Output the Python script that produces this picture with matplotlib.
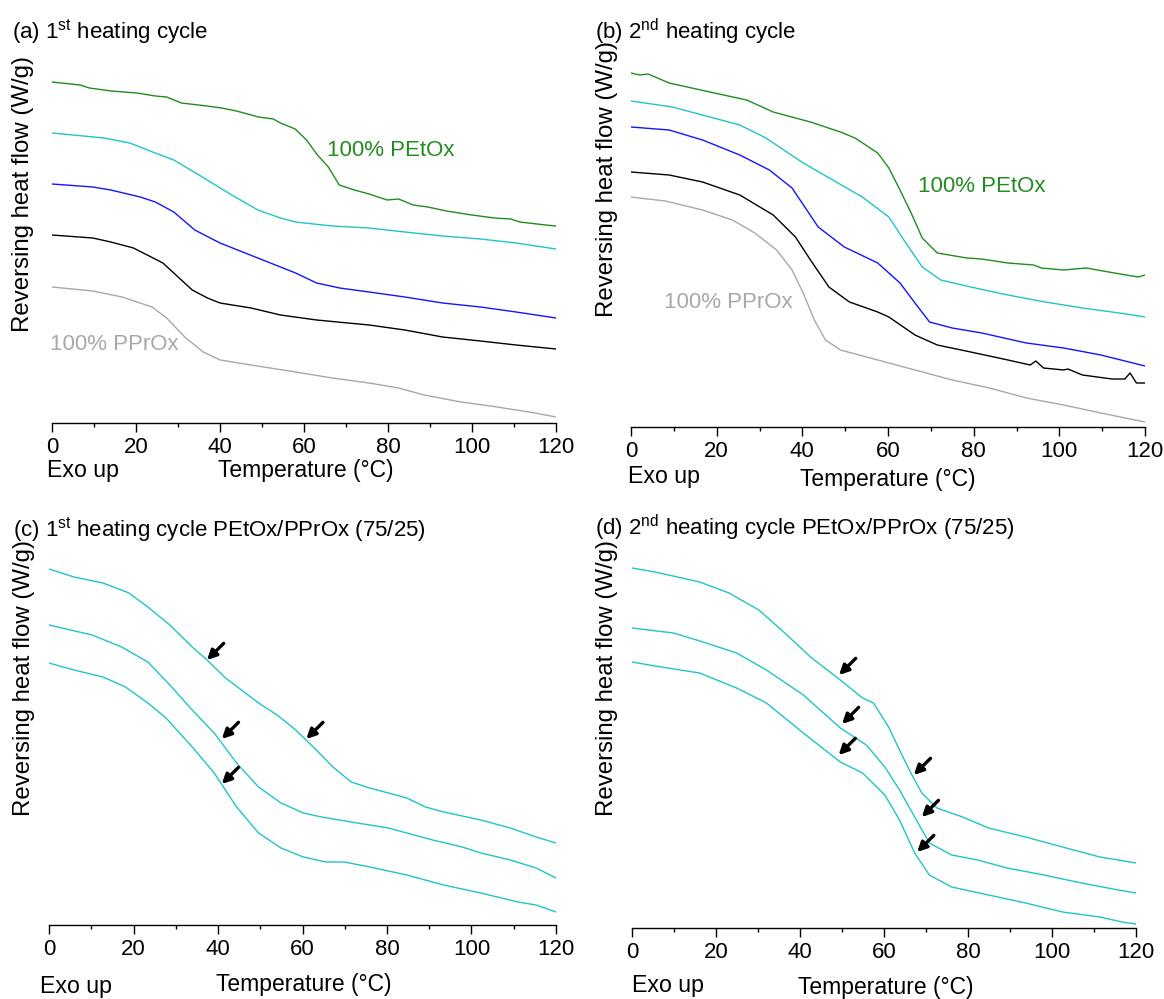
import matplotlib
matplotlib.use('Agg')
import matplotlib.pyplot as plt
from matplotlib.ticker import MultipleLocator

plt.rcParams['font.family'] = ['Liberation Sans', 'DejaVu Sans']
plt.rcParams['mathtext.fontset'] = 'custom'
plt.rcParams['mathtext.rm'] = 'Liberation Sans'
plt.rcParams['font.size'] = 16

# --- data (temperature in C, reversing heat flow in arbitrary offset units) ---
# (a) 1st heating cycle
a_t_green = [0, 6.7, 8.9, 14.1, 20.2, 24.6, 27.3, 30.8, 36.9, 40.4, 43.9, 49.2, 52.7, 54.4, 57.9, 60.6,
             63.2, 65.8, 68.4, 72, 75.5, 79.8, 82.5, 86, 89.5, 93.9, 100, 105.3, 109.2, 111.4, 117.5, 120]
a_hf_green = [3.41, 3.38, 3.35, 3.32, 3.30, 3.27, 3.26, 3.20, 3.17, 3.15, 3.12, 3.06, 3.04, 3.00, 2.94, 2.83,
              2.68, 2.56, 2.38, 2.33, 2.29, 2.23, 2.24, 2.18, 2.16, 2.12, 2.08, 2.05, 2.04, 2.01, 1.98, 1.97]
a_t_cyan = [0, 5, 12.4, 18.5, 24.6, 29, 35, 42, 49, 54.4, 58, 66.7, 75.5, 84, 93, 102, 110.5, 120]
a_hf_cyan = [2.90, 2.88, 2.85, 2.80, 2.70, 2.63, 2.48, 2.30, 2.13, 2.05, 2.01, 1.97, 1.95, 1.91, 1.87, 1.84, 1.80, 1.74]
a_t_blue = [0, 9.7, 14, 21, 24.6, 29, 34, 40, 49, 58, 63, 68.5, 75.5, 84, 93, 102, 110.5, 120]
a_hf_blue = [2.39, 2.36, 2.33, 2.26, 2.21, 2.11, 1.93, 1.80, 1.65, 1.50, 1.40, 1.35, 1.31, 1.26, 1.20, 1.16, 1.11, 1.05]
a_t_black = [0, 9.7, 14, 19.4, 26.4, 30.8, 33.4, 37, 40, 47.4, 54.4, 63, 75.5, 84, 93, 102, 110.5, 120]
a_hf_black = [1.88, 1.85, 1.81, 1.75, 1.60, 1.43, 1.33, 1.25, 1.20, 1.15, 1.08, 1.03, 0.98, 0.93, 0.86, 0.82, 0.78, 0.74]
a_t_gray = [0, 9.7, 16.7, 23.8, 27.3, 31.6, 36, 40, 47.4, 58, 66.7, 75.5, 82.5, 88.6, 97.4, 106, 115, 120]
a_hf_gray = [1.36, 1.32, 1.26, 1.16, 1.05, 0.86, 0.71, 0.63, 0.58, 0.51, 0.45, 0.40, 0.35, 0.28, 0.21, 0.16, 0.10, 0.06]

# (b) 2nd heating cycle
b_t_green = [0, 2, 4, 8.9, 18.4, 27, 33.2, 41.9, 48.9, 52.3, 57.6, 60.2, 62.8, 65.4, 68, 71.5, 78.4, 81.9,
             88, 94, 95.8, 101, 106.3, 111.5, 118.4, 120]
b_hf_green = [3.54, 3.52, 3.53, 3.44, 3.35, 3.27, 3.15, 3.05, 2.95, 2.89, 2.74, 2.59, 2.37, 2.14, 1.89, 1.74,
              1.69, 1.68, 1.64, 1.62, 1.59, 1.57, 1.59, 1.55, 1.50, 1.52]
b_t_cyan = [0, 9.7, 18.4, 25.4, 31.5, 40.2, 47.1, 54, 60.2, 63.7, 68, 72.3, 79.3, 88, 96.7, 105.4, 114, 120]
b_hf_cyan = [3.26, 3.20, 3.10, 3.02, 2.89, 2.64, 2.47, 2.30, 2.10, 1.87, 1.60, 1.47, 1.40, 1.32, 1.25, 1.19, 1.14, 1.10]
b_t_blue = [0, 8.9, 16.7, 25.4, 32.3, 37.6, 43.7, 49.8, 57.6, 62.8, 66.3, 69.7, 75, 81.9, 92.3, 101, 109.7, 120]
b_hf_blue = [3.00, 2.97, 2.87, 2.72, 2.57, 2.39, 2.00, 1.80, 1.64, 1.44, 1.24, 1.05, 0.99, 0.94, 0.84, 0.79, 0.72, 0.61]
b_t_black = [0, 8.9, 16.7, 25.4, 33.2, 38.4, 41.9, 46.2, 51, 57.6, 60.2, 66.3, 71.5, 79.3, 88, 93.2, 94.5,
             96.3, 101, 102, 105.4, 112.3, 115.3, 116.5, 118, 120]
b_hf_black = [2.55, 2.52, 2.45, 2.32, 2.12, 1.90, 1.67, 1.40, 1.25, 1.15, 1.10, 0.92, 0.82, 0.75, 0.67, 0.62, 0.66,
              0.59, 0.57, 0.58, 0.52, 0.48, 0.48, 0.54, 0.44, 0.44]
b_t_gray = [0, 8, 16.7, 23.7, 28.9, 34, 37.6, 40.2, 42.8, 45.4, 48.9, 57.6, 66.3, 75, 83.7, 92.3, 101, 109.7, 120]
b_hf_gray = [2.30, 2.26, 2.17, 2.07, 1.94, 1.77, 1.57, 1.34, 1.07, 0.87, 0.77, 0.67, 0.57, 0.47, 0.39, 0.29, 0.22, 0.14, 0.05]

# (c) 1st heating cycle PEtOx/PPrOx (75/25)
c_t_1 = [0, 5.9, 12.8, 18.9, 23.4, 28.6, 33.9, 37.4, 41.8, 49.6, 54, 58.4, 62.8, 67.2, 71.5, 75.9, 80.3, 84.7,
         89.1, 93.4, 102.2, 109.2, 115.3, 120]
c_hf_1 = [3.56, 3.48, 3.42, 3.32, 3.18, 3.00, 2.78, 2.65, 2.47, 2.22, 2.10, 1.95, 1.77, 1.58, 1.43, 1.37, 1.32, 1.27,
          1.18, 1.13, 1.05, 0.97, 0.88, 0.82]
c_t_2 = [0, 10.2, 17.2, 23.4, 28.6, 33.9, 39.1, 44.4, 49.6, 54.9, 60.2, 64.5, 71.5, 80.3, 84.7, 90.8, 97.8,
         102.2, 109.2, 115.3, 120]
c_hf_2 = [3.00, 2.90, 2.78, 2.63, 2.40, 2.15, 1.92, 1.62, 1.38, 1.22, 1.12, 1.08, 1.03, 0.97, 0.92, 0.85, 0.78,
          0.72, 0.65, 0.57, 0.47]
c_t_3 = [0, 5.9, 12.8, 18.1, 23.4, 27.7, 33.9, 39.1, 44.4, 49.6, 54.9, 60.2, 65.5, 69.9, 75.9, 84.7, 93.4,
         102.2, 111, 115.3, 120]
c_hf_3 = [2.62, 2.55, 2.48, 2.38, 2.22, 2.07, 1.78, 1.52, 1.18, 0.92, 0.77, 0.68, 0.63, 0.63, 0.58, 0.50, 0.40,
          0.32, 0.23, 0.20, 0.13]
c_arrow_t = [37.4, 60.9, 40.9, 40.9]
c_arrow_hf = [2.65, 1.86, 1.86, 1.41]

# (d) 2nd heating cycle PEtOx/PPrOx (75/25)
d_t_1 = [0, 5.5, 16.1, 23.1, 30.2, 36.4, 42.5, 49.6, 54.9, 57.5, 61.1, 63.7, 66.4, 69, 72.6, 78.7, 84.9, 93.7,
         102.5, 111.4, 115.8, 120]
d_hf_1 = [3.60, 3.56, 3.46, 3.35, 3.18, 2.95, 2.71, 2.48, 2.30, 2.25, 2.01, 1.78, 1.55, 1.35, 1.20, 1.11, 1.00, 0.91,
          0.81, 0.71, 0.68, 0.65]
d_t_2 = [0, 9.9, 16.9, 24.9, 32, 40.8, 49.6, 55.8, 60.2, 63.7, 67.3, 70.8, 76.1, 82.3, 89.3, 98.1, 107, 115.8, 120]
d_hf_2 = [3.00, 2.95, 2.86, 2.75, 2.58, 2.33, 2.00, 1.83, 1.61, 1.38, 1.11, 0.85, 0.73, 0.68, 0.60, 0.53, 0.45,
          0.38, 0.35]
d_t_3 = [0, 5.5, 16.1, 24.9, 32, 40.8, 49.6, 54.9, 60.2, 63.7, 67.3, 70.8, 76.1, 84.9, 93.7, 102.5, 111.4, 116.7, 120]
d_hf_3 = [2.66, 2.62, 2.55, 2.40, 2.25, 1.95, 1.66, 1.55, 1.33, 1.08, 0.75, 0.53, 0.41, 0.33, 0.25, 0.16, 0.11,
          0.06, 0.04]
d_arrow_t = [49.3, 50, 49.2, 67.1, 69, 67.9]
d_arrow_hf = [2.53, 2.04, 1.73, 1.53, 1.11, 0.76]

GREEN = '#228b22'
CYAN = '#22c4c4'
BLUE = '#1414ff'
GRAY = '#a8a8a8'

W, H = 1164, 999
fig = plt.figure(figsize=(W / 100, H / 100), dpi=100)


def box(left, right, axis_y, top):
    return [left / W, 1 - axis_y / H, (right - left) / W, (axis_y - top) / H]


def px(x, y):
    return x / W, 1 - y / H


def setup(ax, ytop):
    ax.set_xlim(0, 120)
    ax.set_ylim(0, ytop)
    for s in ['top', 'right', 'left']:
        ax.spines[s].set_visible(False)
    ax.spines['bottom'].set_linewidth(1.0)
    ax.set_yticks([])
    ax.xaxis.set_major_locator(MultipleLocator(20))
    ax.xaxis.set_minor_locator(MultipleLocator(10))
    ax.tick_params(axis='x', which='major', length=6.5, width=1, pad=3.5, labelsize=16)
    ax.tick_params(axis='x', which='minor', length=3, width=1)
    ax.patch.set_visible(False)


def arrows(ax, ts, hs):
    for t, h in zip(ts, hs):
        ax.annotate('', xy=(t, h), xytext=(12, 12), textcoords='offset points',
                    arrowprops=dict(arrowstyle='-|>', color='k', lw=2.4,
                                    mutation_scale=14, shrinkA=0, shrinkB=0))


# panel a
ax = fig.add_axes(box(52, 556, 423, 55))
setup(ax, 3.68)
ax.plot(a_t_green, a_hf_green, color=GREEN, lw=1)
ax.plot(a_t_cyan, a_hf_cyan, color=CYAN, lw=1)
ax.plot(a_t_blue, a_hf_blue, color=BLUE, lw=1)
ax.plot(a_t_black, a_hf_black, color='k', lw=1)
ax.plot(a_t_gray, a_hf_gray, color=GRAY, lw=1)
ax.text(65.4, 2.73, '100% PEtOx', color=GREEN, va='center', ha='left', fontsize=16)
ax.text(-0.5, 0.78, '100% PPrOx', color=GRAY, va='center', ha='left', fontsize=16)

# panel b
ax = fig.add_axes(box(631, 1145, 427, 55))
setup(ax, 3.72)
ax.plot(b_t_green, b_hf_green, color=GREEN, lw=1)
ax.plot(b_t_cyan, b_hf_cyan, color=CYAN, lw=1)
ax.plot(b_t_blue, b_hf_blue, color=BLUE, lw=1)
ax.plot(b_t_black, b_hf_black, color='k', lw=1)
ax.plot(b_t_gray, b_hf_gray, color=GRAY, lw=1)
ax.text(67.1, 2.40, '100% PEtOx', color=GREEN, va='center', ha='left', fontsize=16)
ax.text(7.8, 1.25, '100% PPrOx', color=GRAY, va='center', ha='left', fontsize=16)

# panel c
ax = fig.add_axes(box(49, 556, 925, 545))
setup(ax, 3.80)
ax.plot(c_t_1, c_hf_1, color=CYAN, lw=1)
ax.plot(c_t_2, c_hf_2, color=CYAN, lw=1)
ax.plot(c_t_3, c_hf_3, color=CYAN, lw=1)
arrows(ax, c_arrow_t, c_arrow_hf)

# panel d
ax = fig.add_axes(box(632, 1136, 928, 545))
setup(ax, 3.83)
ax.plot(d_t_1, d_hf_1, color=CYAN, lw=1)
ax.plot(d_t_2, d_hf_2, color=CYAN, lw=1)
ax.plot(d_t_3, d_hf_3, color=CYAN, lw=1)
arrows(ax, d_arrow_t, d_arrow_hf)

# titles, axis labels
titles = [r'(a) 1$^{\rm st}$ heating cycle', r'(b) 2$^{\rm nd}$ heating cycle',
          r'(c) 1$^{\rm st}$ heating cycle PEtOx/PPrOx (75/25)',
          r'(d) 2$^{\rm nd}$ heating cycle PEtOx/PPrOx (75/25)']
title_pos = [(12, 38), (595, 39), (13, 536), (595, 535)]
for s, (x, y) in zip(titles, title_pos):
    fig.text(*px(x, y), s, fontsize=16, ha='left', va='baseline')

for x, y in [(23, 194), (607, 179), (24, 678), (607, 678)]:
    fig.text(*px(x, y), 'Reversing heat flow (W/g)', rotation=90, ha='center', va='center', fontsize=17.3)

for x, y in [(47, 477), (628, 483), (40, 993), (632, 992)]:
    fig.text(*px(x, y), 'Exo up', ha='left', va='baseline', fontsize=16.7)
for x, y in [(218, 477), (800, 486), (216, 991), (798, 994)]:
    fig.text(*px(x, y), 'Temperature (°C)', ha='left', va='baseline', fontsize=16.5)

fig.savefig('out.png', dpi=100)
